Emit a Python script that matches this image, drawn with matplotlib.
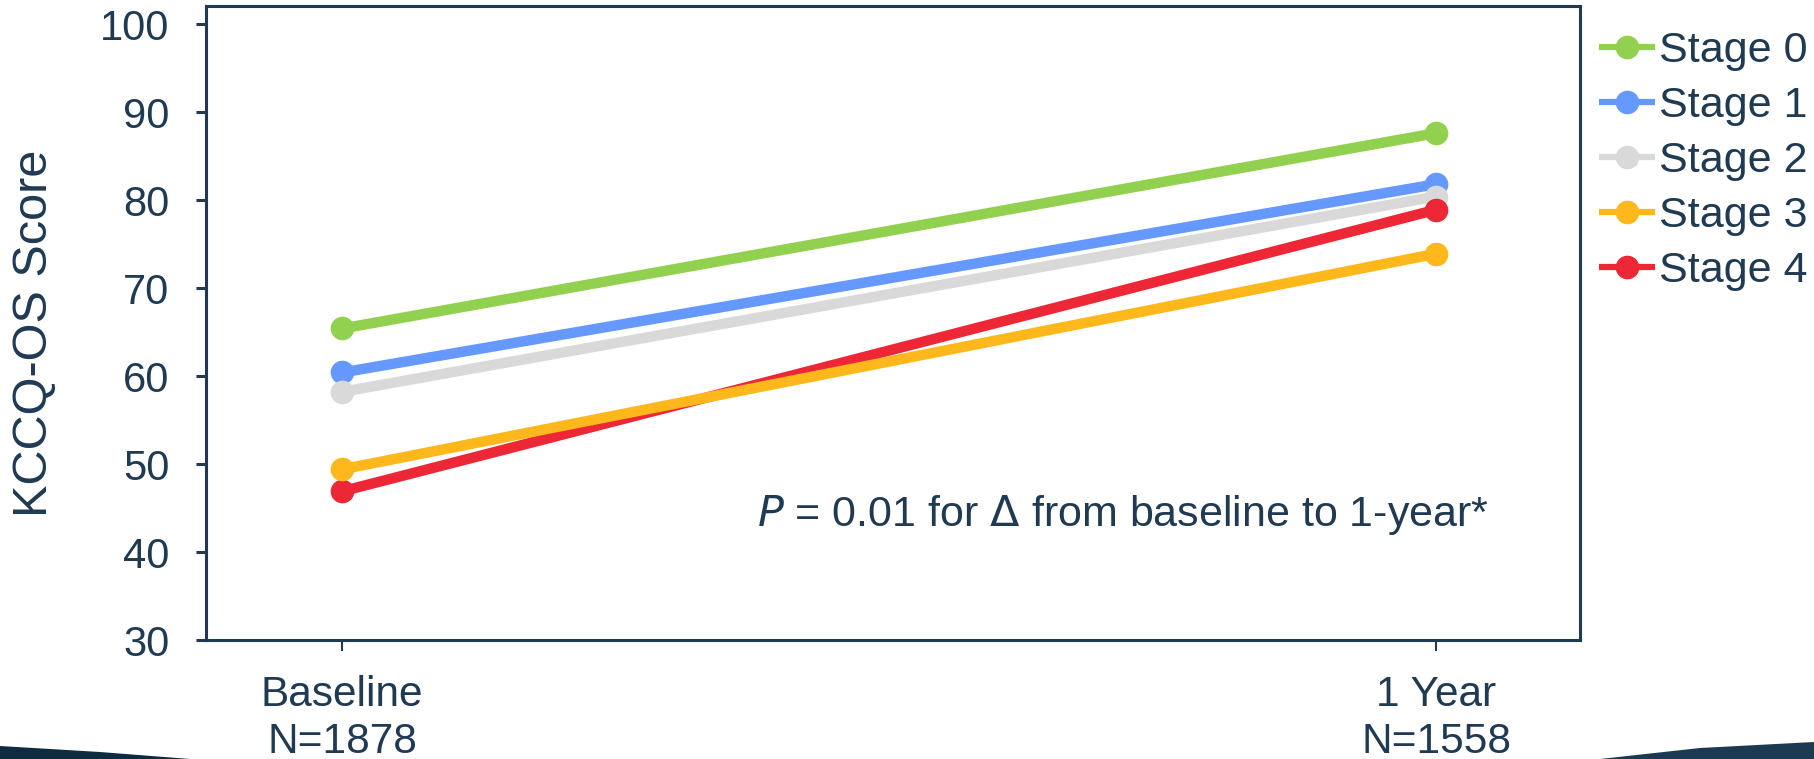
import matplotlib
matplotlib.use("Agg")
import matplotlib.pyplot as plt
from matplotlib.patches import Polygon

plt.rcParams['font.family'] = ['Liberation Sans', 'DejaVu Sans']

navy = '#1F3A52'

# KCCQ-OS score by stage, baseline and 1 year
timepoints = ['Baseline\nN=1878', '1 Year\nN=1558']
stages = ['Stage 0', 'Stage 1', 'Stage 2', 'Stage 3', 'Stage 4']
stage0 = [65.4, 87.6]
stage1 = [60.4, 81.8]
stage2 = [58.2, 80.4]
stage3 = [49.4, 73.9]
stage4 = [46.9, 78.9]

colors = ['#92D050', '#6699FF', '#D9D9D9', '#FFB81C', '#EE2737']
zorders = [3, 4, 5, 7, 6]

fig = plt.figure(figsize=(18.14, 7.59), dpi=100)
ax = fig.add_axes([206 / 1814, 1 - 640 / 759, 1374 / 1814, 634 / 759])

x = [0, 1]
for name, vals, c, z in zip(stages, [stage0, stage1, stage2, stage3, stage4], colors, zorders):
    ax.plot(x, vals, '-o', color=c, lw=7.5, ms=16, label=name, zorder=z,
            solid_capstyle='butt')

ax.set_xlim(-0.1245, 1.1315)
ax.set_ylim(30, 102.05)
ax.set_yticks(range(30, 101, 10))
ax.set_xticks(x)
ax.set_xticklabels(timepoints, linespacing=1.25)

for sp in ax.spines.values():
    sp.set_color(navy)
    sp.set_linewidth(2.2)
ax.tick_params(axis='y', colors=navy, labelsize=30, length=7.5, width=2.2, pad=19)
ax.tick_params(axis='x', colors=navy, labelsize=30.5, length=8, width=1.5, pad=17)

ax.set_ylabel('KCCQ-OS Score', fontsize=35, color=navy, va='center')
ax.yaxis.set_label_coords(-0.1245, 0.484)

ax.text(0.379, 42.95, r'$\it{P}$ = 0.01 for $\Delta$ from baseline to 1-year*',
        fontsize=31, color=navy, ha='left', va='baseline')

leg = ax.legend(loc='upper left', bbox_to_anchor=(1599 / 1814, 1 - 31 / 759),
                bbox_transform=fig.transFigure, frameon=False, fontsize=31,
                handlelength=1.3, handletextpad=0.1, labelspacing=0.35,
                borderpad=0, borderaxespad=0)
for t in leg.get_texts():
    t.set_color(navy)
for ln in leg.get_lines():
    ln.set_linewidth(4.5)

# slide footer swoosh at bottom corners
fig.add_artist(Polygon([(0, 0), (0, 13 / 759), (100 / 1814, 7 / 759), (190 / 1814, 0)],
                       closed=True, transform=fig.transFigure, color='#0F2B40', lw=0))
fig.add_artist(Polygon([(1, 0), (1, 17 / 759), (1700 / 1814, 11 / 759), (1600 / 1814, 0)],
                       closed=True, transform=fig.transFigure, color='#1B3A52', lw=0))

fig.savefig('out.png', dpi=100)
